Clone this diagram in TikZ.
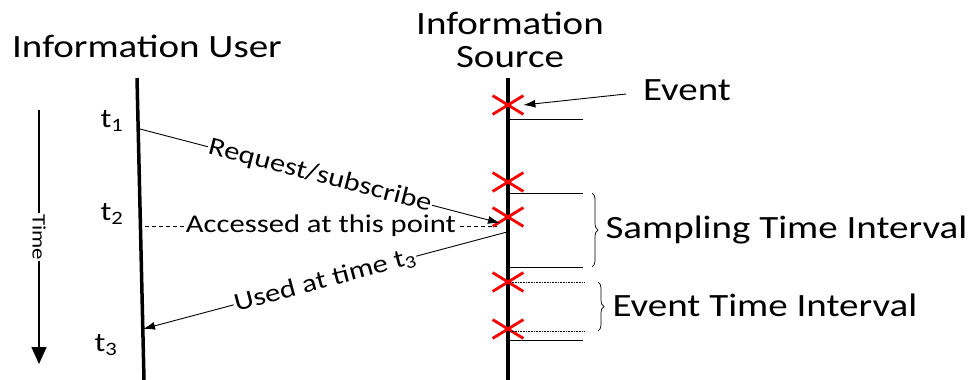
\documentclass[tikz,border=0pt]{standalone}
\usepackage{fontspec}
\setmainfont{Carlito}[FakeStretch=1.2]
\usetikzlibrary{arrows,arrows.meta,shapes,decorations.pathreplacing}
\tikzstyle{lifeline}=[draw,line width=3.5pt]
\tikzstyle{event}=[cross out,draw=red,line width=2.8pt,minimum width=28pt,minimum height=16pt,inner sep=0pt]
\tikzstyle{tick}=[draw,line width=0.9pt]
\tikzstyle{dottick}=[draw,line width=0.6pt,densely dotted]
\tikzstyle{message}=[draw,line width=0.9pt,-{Latex[length=12pt,width=8pt]}]
\tikzstyle{msglabel}=[font=\fontsize{25.5}{30}\selectfont,fill=white,inner sep=1pt,midway,sloped]
\tikzstyle{big}=[font=\fontsize{32.5}{38}\selectfont]
\tikzstyle{interval}=[draw,line width=0.7pt,decorate,decoration={brace,amplitude=6pt}]

\begin{document}
\begin{tikzpicture}[x=1pt,y=-1pt]
    \useasboundingbox (0,0) rectangle (972,380);
    % titles
    \node[big] (user) at (147,46) {Information User};
    \node[big,align=center] (source) at (510,40) {Information\\[-5pt]Source};
    % lifelines
    \coordinate (u0) at (137,78);
    \coordinate (u1) at (144,380);
    \coordinate (s0) at (508,78);
    \coordinate (s1) at (508,380);
    \path[lifeline] (u0) -- (u1);
    \path[lifeline] (s0) -- (s1);
    % events on the source
    \foreach \name/\y in {e1/105, e2/182, e3/217, e4/282, e5/329}
        \node[event] (\name) at (508,\y) {};
    % interval ticks
    \foreach \name/\y in {k1/119, k2/193, k3/267, k4/340}
        \path[tick] (510,\y) coordinate (\name) -- (583,\y) coordinate (\name e);
    \foreach \name/\y in {d1/282, d2/331}
        \path[dottick] (510,\y) coordinate (\name) -- (585,\y) coordinate (\name e);
    % braces
    \path[interval] (592,193) coordinate (b1) -- (592,267) coordinate (b2);
    \path[interval] (598,282) coordinate (b3) -- (598,331) coordinate (b4);
    \node[big,anchor=west] (sti) at (602,230) {Sampling Time Interval};
    \node[big,anchor=west] (eti) at (609,305) {Event Time Interval};
    % event pointer
    \node[big] (event) at (687,90) {Event};
    \coordinate (ev) at (626,94);
    \path[message] (ev) -- (e1.east);
    % time points on the user
    \foreach \name/\pos/\n in {t1/{(112,121)}/1, t2/{(112,214)}/2, t3/{(106,345)}/3}
        \node[font=\fontsize{27}{32}\selectfont] (\name) at \pos {t\textsubscript{\n}};
    % messages
    \coordinate (r0) at (140,129);
    \coordinate (r1) at (500,223);
    \path[message] (r0) -- node[msglabel] {Request/subscribe} (r1);
    \coordinate (a0) at (145,226);
    \coordinate (a1) at (497,226);
    \path[draw,line width=0.6pt,dash pattern=on 4pt off 3pt] (a0) -- node[msglabel] {Accessed at this point} (a1);
    \coordinate (q0) at (507,232);
    \coordinate (q1) at (143,329);
    \path[message] (q0) -- node[msglabel] {Used at time t\textsubscript{3}} (q1);
    % time axis
    \coordinate (x0) at (39,110);
    \coordinate (x1) at (39,364);
    \path[draw,line width=1.6pt,-{Triangle[length=17pt,width=15pt]}] (x0) -- node[fill=white,inner sep=1pt,rotate=-90,font=\fontsize{19}{22}\selectfont] (time) {Time} (x1);
\end{tikzpicture}
\end{document}
